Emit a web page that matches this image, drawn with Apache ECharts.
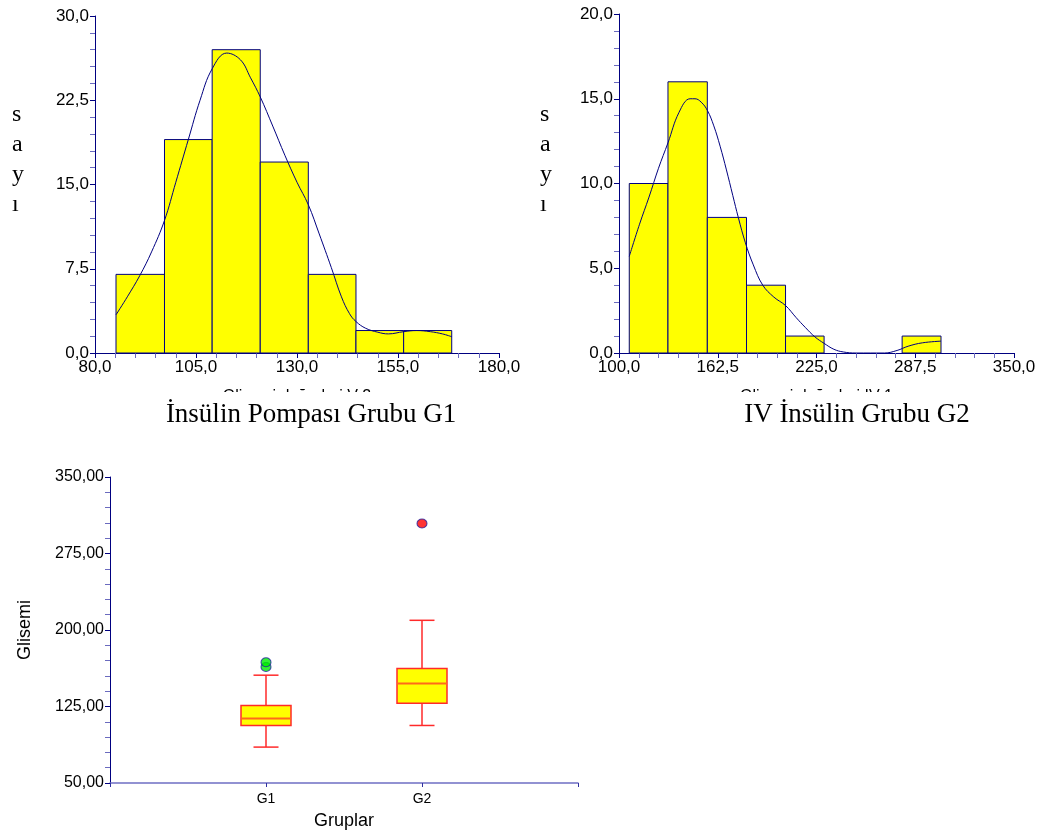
<!DOCTYPE html>
<html>
<head>
<meta charset="utf-8">
<script src="https://cdn.jsdelivr.net/npm/echarts@6/dist/echarts.min.js"></script>
<style>
html,body{margin:0;padding:0;background:#fff;}
#chart{width:1054px;height:835px;}
</style>
</head>
<body>
<div id="chart"></div>
<script>
// ---------- data ----------
const g1Edges = [85.2, 97.2, 109.0, 120.9, 132.8, 144.6, 156.4, 168.3];
const g1Counts = [7, 19, 27, 17, 7, 2, 2];
const g1CurveX = [85.2, 88, 91.1, 94, 97.2, 100, 103.1, 106, 109, 112.6, 116, 118.5, 120.9, 124, 127, 130, 132.8, 135.5, 138.5, 141, 143, 144.6, 147, 150, 152.6, 156.4, 159.6, 163, 166, 168.3];
const g1CurveY = [3.4, 5.0, 6.9, 9.0, 11.8, 15.2, 19.0, 22.5, 25.3, 26.7, 26.1, 24.5, 22.8, 20.2, 17.6, 15.2, 13.2, 10.6, 7.6, 5.0, 3.5, 2.8, 2.2, 1.85, 1.7, 1.9, 2.0, 1.9, 1.7, 1.45];

const g2Edges = [106.5, 131.0, 155.9, 180.7, 205.4, 229.8, 254.5, 279.2, 303.8];
const g2Counts = [10, 16, 8, 4, 1, 0, 0, 1];
const g2CurveX = [106.5, 113, 119, 125, 131, 138, 145, 148.1, 152, 156, 160, 164, 168, 172, 175.5, 180, 185, 191, 198, 205.4, 212, 218, 224, 229.8, 236, 242, 250, 268, 276, 283, 292, 303.8];
const g2CurveY = [5.7, 7.6, 9.2, 10.9, 12.4, 14.2, 15.0, 15.0, 14.8, 14.3, 13.4, 12.2, 10.8, 9.3, 8.0, 6.5, 5.2, 4.0, 3.3, 2.8, 2.1, 1.5, 0.95, 0.57, 0.22, 0.06, 0.0, 0.0, 0.15, 0.4, 0.6, 0.7];

const groups = ['G1', 'G2'];
const whiskerLow = [85.2, 106.4];
const q1 = [106.4, 128.3];
const median = [113.3, 147.5];
const q3 = [126.0, 162.2];
const whiskerHigh = [155.7, 209.5];
const g1Outliers = [163.8, 168.4];
const g2Outliers = [304.4];

const h1XTicks = [80, 180, 25];
const h1YTicks = [0, 30, 7.5];
const h2XTicks = [100, 350, 62.5];
const h2YTicks = [0, 20, 5];
const boxYTicks = [50, 350, 75];

// ---------- helpers ----------
const NAVY = '#000080';
const MINOR = '#6a6abf';
const SANS = 'Liberation Sans';
const SERIF = 'Liberation Serif';
const comma = d => v => v.toFixed(d).replace('.', ',');

function histData(edges, counts) {
  return counts.map((c, i) => [edges[i], edges[i + 1], c]);
}
function curveData(xs, ys) { return xs.map((x, i) => [x, ys[i]]); }

function histRender(params, api) {
  const c = api.value(2);
  if (!c) return null;
  const p0 = api.coord([api.value(0), c]);
  const p1 = api.coord([api.value(1), 0]);
  return {
    type: 'rect',
    shape: { x: p0[0], y: p0[1], width: p1[0] - p0[0], height: p1[1] - p0[1] },
    style: { fill: '#ffff00', stroke: NAVY, lineWidth: 1 }
  };
}

function boxRender(params, api) {
  const x = api.value(0);
  const lo = api.coord([x, api.value(1)]);
  const b1 = api.coord([x, api.value(2)]);
  const md = api.coord([x, api.value(3)]);
  const b3 = api.coord([x, api.value(4)]);
  const hi = api.coord([x, api.value(5)]);
  const cx = lo[0], hw = 25, cw = 12.5;
  const red = '#ff2a2a';
  return {
    type: 'group',
    children: [
      { type: 'line', shape: { x1: cx, y1: lo[1], x2: cx, y2: b1[1] }, style: { stroke: red, lineWidth: 1.5 } },
      { type: 'line', shape: { x1: cx, y1: b3[1], x2: cx, y2: hi[1] }, style: { stroke: red, lineWidth: 1.5 } },
      { type: 'line', shape: { x1: cx - cw, y1: lo[1], x2: cx + cw, y2: lo[1] }, style: { stroke: red, lineWidth: 1.5 } },
      { type: 'line', shape: { x1: cx - cw, y1: hi[1], x2: cx + cw, y2: hi[1] }, style: { stroke: red, lineWidth: 1.5 } },
      { type: 'rect', shape: { x: cx - hw, y: b3[1], width: 2 * hw, height: b1[1] - b3[1] }, style: { fill: '#ffff00', stroke: red, lineWidth: 1.5 } },
      { type: 'line', shape: { x1: cx - hw, y1: md[1], x2: cx + hw, y2: md[1] }, style: { stroke: '#ff6a1a', lineWidth: 2 } }
    ]
  };
}

function valAxis(gridIndex, t, dec, fs, extra) {
  return Object.assign({
    type: 'value', gridIndex, min: t[0], max: t[1], interval: t[2],
    axisLine: { show: true, onZero: false, lineStyle: { color: NAVY, width: 1 } },
    axisTick: { show: true, length: 5, lineStyle: { color: NAVY } },
    minorTick: { show: true, splitNumber: 5, length: 5, lineStyle: { color: MINOR } },
    splitLine: { show: false },
    minorSplitLine: { show: false },
    axisLabel: { formatter: comma(dec), color: '#000', fontFamily: SANS, fontSize: fs, margin: 6 }
  }, extra || {});
}

const option = {
  animation: false,
  backgroundColor: '#fff',
  title: [
    { text: 'İnsülin Pompası Grubu G1', left: 306, top: 396, textAlign: 'center', z: 200,
      textStyle: { fontFamily: SERIF, fontSize: 27, fontWeight: 'normal', color: '#000' } },
    { text: 'IV İnsülin Grubu G2', left: 852, top: 396, textAlign: 'center', z: 200,
      textStyle: { fontFamily: SERIF, fontSize: 27, fontWeight: 'normal', color: '#000' } }
  ],
  grid: [
    { left: 95, top: 16, width: 404, height: 337 },
    { left: 619, top: 14, width: 395, height: 339 },
    { left: 110, top: 477, width: 468, height: 306 }
  ],
  xAxis: [
    valAxis(0, h1XTicks, 1, 17, { name: 'Glisemi değerleri V 2', nameLocation: 'middle', nameGap: 36,
      nameTextStyle: { fontFamily: SANS, fontSize: 16, color: '#000' } }),
    valAxis(1, h2XTicks, 1, 17, { name: 'Glisemi değerleri IV 1', nameLocation: 'middle', nameGap: 36,
      nameTextStyle: { fontFamily: SANS, fontSize: 16, color: '#000' } }),
    {
      type: 'value', gridIndex: 2, min: 0, max: 3, interval: 1,
      axisLine: { show: true, onZero: false, lineStyle: { color: '#6f6fc4', width: 1.5 } },
      axisTick: { show: true, length: 4, lineStyle: { color: '#3030a0' } },
      splitLine: { show: false },
      axisLabel: { formatter: v => groups[v - 1] || '', color: '#000', fontFamily: SANS, fontSize: 14, margin: 9 },
      name: 'Gruplar', nameLocation: 'middle', nameGap: 29,
      nameTextStyle: { fontFamily: SANS, fontSize: 18, color: '#000' }
    }
  ],
  yAxis: [
    valAxis(0, h1YTicks, 1, 17),
    valAxis(1, h2YTicks, 1, 17),
    valAxis(2, boxYTicks, 2, 16, { name: 'Glisemi', nameLocation: 'middle', nameGap: 76,
      nameTextStyle: { fontFamily: SANS, fontSize: 18, color: '#000' } })
  ],
  graphic: [
    { type: 'rect', z: 100, shape: { x: 150, y: 392, width: 330, height: 22 }, style: { fill: '#fff' } },
    { type: 'rect', z: 100, shape: { x: 680, y: 392, width: 330, height: 22 }, style: { fill: '#fff' } },
    { type: 'text', left: 12, top: 100, z: 100,
      style: { text: 's\na\ny\nı', fontFamily: SERIF, fontSize: 24, lineHeight: 30, fill: '#000', align: 'center' } },
    { type: 'text', left: 540, top: 100, z: 100,
      style: { text: 's\na\ny\nı', fontFamily: SERIF, fontSize: 24, lineHeight: 30, fill: '#000', align: 'center' } }
  ],
  series: [
    { type: 'custom', xAxisIndex: 0, yAxisIndex: 0, renderItem: histRender, data: histData(g1Edges, g1Counts), z: 2 },
    { type: 'line', xAxisIndex: 0, yAxisIndex: 0, data: curveData(g1CurveX, g1CurveY), smooth: 0.4,
      showSymbol: false, lineStyle: { color: NAVY, width: 1 }, z: 3 },
    { type: 'custom', xAxisIndex: 1, yAxisIndex: 1, renderItem: histRender, data: histData(g2Edges, g2Counts), z: 2 },
    { type: 'line', xAxisIndex: 1, yAxisIndex: 1, data: curveData(g2CurveX, g2CurveY), smooth: 0.4,
      showSymbol: false, lineStyle: { color: NAVY, width: 1 }, z: 3 },
    { type: 'custom', xAxisIndex: 2, yAxisIndex: 2, renderItem: boxRender,
      data: groups.map((g, i) => [i + 1, whiskerLow[i], q1[i], median[i], q3[i], whiskerHigh[i]]), z: 2 },
    { type: 'scatter', xAxisIndex: 2, yAxisIndex: 2, data: g1Outliers.map(v => [1, v]), symbol: 'circle', symbolSize: [10, 9],
      itemStyle: { color: '#00ee00', borderColor: '#2020a0', borderWidth: 1 }, z: 4 },
    { type: 'scatter', xAxisIndex: 2, yAxisIndex: 2, data: g2Outliers.map(v => [2, v]), symbol: 'circle', symbolSize: [10, 9],
      itemStyle: { color: '#ff0000', borderColor: '#2020a0', borderWidth: 1 }, z: 4 }
  ]
};

const chart = echarts.init(document.getElementById('chart'), null, { renderer: 'canvas' });
chart.setOption(option);
</script>
</body>
</html>
